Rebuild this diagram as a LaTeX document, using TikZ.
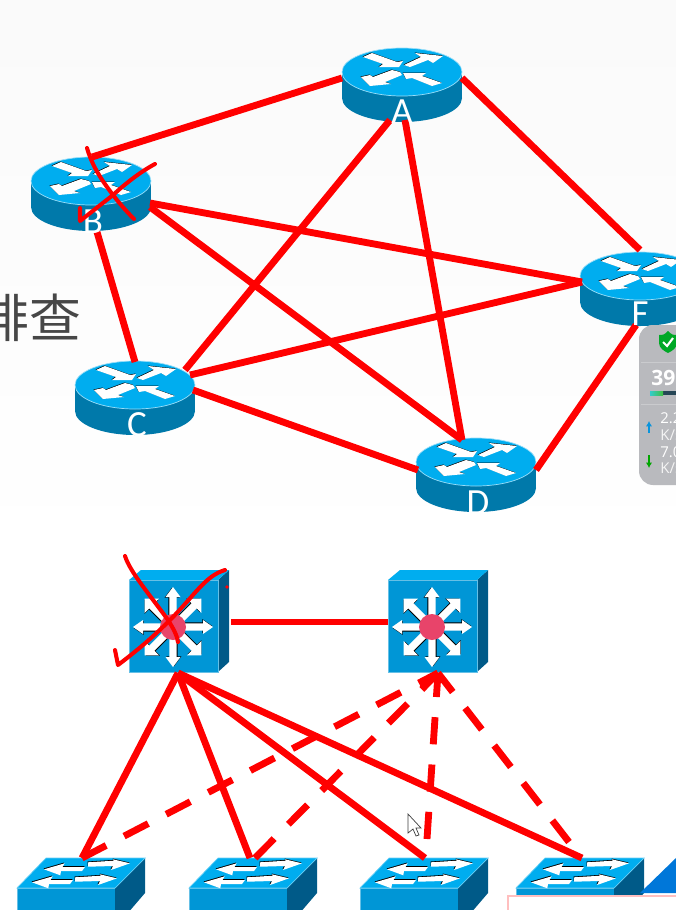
\documentclass[tikz,border=0pt]{standalone}
\usepackage{fontspec}
\usepackage{xcolor}
\usepackage{tikz}
\usetikzlibrary{arrows.meta, positioning}
\newfontfamily\labelfont{Carlito}
\newfontfamily\panelfont{Open Sans}
\newfontfamily\cjkfont{Noto Sans CJK SC}
\definecolor{linkred}{HTML}{FF0000}
\definecolor{icontop}{HTML}{00ADEF}
\definecolor{routerside}{HTML}{0079AA}
\definecolor{switchfront}{HTML}{0096D6}
\definecolor{switchside}{HTML}{005A88}
\definecolor{hubdot}{HTML}{E8446A}
\definecolor{panelgrey}{HTML}{B9BABE}
\tikzset{
	link/.style={draw=linkred, line width=3.9pt},
	dashlink/.style={link, dash pattern=on 15.5pt off 11.5pt},
	pen/.style={draw=linkred, line width=2.3pt, line cap=round, line join=round},
	routerlabel/.style={text=white, font=\labelfont\fontsize{21}{21}\selectfont, inner sep=0pt},
	paneltext/.style={text=white, font=\panelfont\fontsize{8.5}{8.5}\selectfont, anchor=west, inner sep=0pt},
	panelunit/.style={paneltext, text=white!85!panelgrey},
	routericon/.pic={
		\fill[routerside] (0,26) circle[x radius=60, y radius=24];
		\fill[routerside] (-60,0) rectangle (60,26);
		\fill[icontop, draw=white!60!icontop, line width=0.4pt] (0,0) circle[x radius=60, y radius=24];
		\foreach \s/\c in {0.5/black, 0/white} {
			\fill[\c, shift={(-\s,-\s)}] (-30,-19) -- (-39,-15) -- (-19,-8) -- (-23,-5) -- (-3,-5) -- (1,-11) -- (-5,-10) -- cycle;
			\fill[\c, shift={(-\s,-\s)}] (2,-7) -- (8,-5) -- (26,-12) -- (31,-9) -- (41,-16) -- (13,-19) -- (19,-15) -- cycle;
			\fill[\c, shift={(-\s,-\s)}] (-2,0) -- (-10,-2) -- (-29,5) -- (-32,3) -- (-41,5) -- (-32,14) -- (-11,12) -- (-17,10) -- (0,3) -- cycle;
			\fill[\c, shift={(-\s,-\s)}] (1,1) -- (4,7) -- (10,6) -- (30,14) -- (40,11) -- (20,4) -- (24,1) -- cycle;
		}
	},
	coreicon/.pic={
		\fill[switchside] (89,0) -- (100,-10) -- (100,82) -- (89,92) -- cycle;
		\fill[icontop] (0,0) -- (12,-10) -- (100,-10) -- (89,0) -- cycle;
		\fill[switchfront, draw=white!40!switchfront, line width=0.4pt] (0,0) rectangle (89,92);
		\foreach \a/\w in {0/7, 45/10, 90/7.5, 135/10, 180/7, 225/10, 270/7.5, 315/10} {
			\begin{scope}[shift={(44,47)}, rotate=\a]
				\fill[black, shift={(-0.6,-0.9)}] (8,-3.7) -- (30,-3.7) -- (30,-\w) -- (40,0) -- (30,\w) -- (30,3.7) -- (8,3.7) -- cycle;
				\fill[white] (8,-3.7) -- (30,-3.7) -- (30,-\w) -- (40,0) -- (30,\w) -- (30,3.7) -- (8,3.7) -- cycle;
			\end{scope}
		}
		\fill[hubdot] (44,47) circle[radius=13];
	},
	accessicon/.pic={
		\fill[switchfront, draw=white!40!switchfront, line width=0.4pt] (0,0) rectangle (98,40);
		\fill[switchside] (98,0) -- (128,-30) -- (128,5) -- (98,40) -- cycle;
		\fill[icontop, draw=white!40!icontop, line width=0.4pt] (0,0) -- (98,0) -- (128,-30) -- (29,-30) -- cycle;
		\foreach \dx/\dy in {0/0, -13/15} {
			\fill[black, shift={(\dx-0.5,\dy-0.8)}] (71,-25.7) -- (97,-27.3) -- (96,-28.7) -- (113,-24.7) -- (94,-18) -- (96,-22) -- (71,-21.3) -- cycle;
			\fill[white, shift={(\dx,\dy)}] (71,-25.7) -- (97,-27.3) -- (96,-28.7) -- (113,-24.7) -- (94,-18) -- (96,-22) -- (71,-21.3) -- cycle;
		}
		\foreach \dx/\dy in {0/0, -12/13} {
			\fill[black, shift={(\dx-0.5,\dy-0.8)}] (27,-18.7) -- (47.7,-24.7) -- (45.5,-21) -- (68,-21) -- (65,-17) -- (44,-17) -- (43.3,-12.7) -- cycle;
			\fill[white, shift={(\dx,\dy)}] (27,-18.7) -- (47.7,-24.7) -- (45.5,-21) -- (68,-21) -- (65,-17) -- (44,-17) -- (43.3,-12.7) -- cycle;
		}
	}
}
\begin{document}
\begin{tikzpicture}[x=0.02cm, y=-0.02cm]
	% Routers, switches and wires:
	\clip (0,0) rectangle (676,910);
	\fill[white] (0,0) rectangle (676,910);
	\fill[top color=black!2, bottom color=white] (0,0) rectangle (676,560);
	\node[anchor=east, inner sep=0pt, text=black!72, font=\cjkfont\fontsize{29.5}{29.5}\selectfont] (title) at (82,318) {排查};

	\pic at (402,72) {routericon};
	\pic at (91,181) {routericon};
	\pic at (135,385) {routericon};
	\pic at (476,462) {routericon};
	\pic at (640,276) {routericon};

	\foreach \n/\x/\y in {Ab/342/78, Af/462/78, Ac/390/120, Ad/405/120, Ba/92/157, Bf/150/203, Bd/150/207, Bc/97/232,
		Ca/185/370, Cb/135/362, Cf/190/375, Cd/193/390, Da/462/440, Db/462/440, Dc/418/470, Df/536/470,
		Fa/640/250, Fb/582/282, Fc/582/282, Fd/636/325} {
		\coordinate (\n) at (\x,\y);
	}
	\draw[link] (Ab) -- (Ba);
	\draw[link] (Af) -- (Fa);
	\draw[link] (Ac) -- (Ca);
	\draw[link] (Ad) -- (Da);
	\draw[link] (Bf) -- (Fb);
	\draw[link] (Bd) -- (Db);
	\draw[link] (Bc) -- (Cb);
	\draw[link] (Cf) -- (Fc);
	\draw[link] (Cd) -- (Dc);
	\draw[link] (Df) -- (Fd);

	% status panel
	\fill[panelgrey, rounded corners=8pt] (639,325) rectangle (690,485);
	\draw[white!25!panelgrey, line width=0.5pt] (641,362) -- (676,362);
	\draw[white!25!panelgrey, line width=0.5pt] (641,404) -- (676,404);
	\fill[green!60!black!85!cyan] (668,331) .. controls (664,335) and (663,335) .. (659,335) -- (659,343) .. controls (659,348) and (664,351) .. (668,353) .. controls (672,351) and (677,348) .. (677,343) -- (677,335) .. controls (673,335) and (672,335) .. (668,331) -- cycle;
	\draw[white, line width=1.2pt] (663,342) -- (667,346) -- (673,338);
	\node[paneltext, font=\panelfont\bfseries\fontsize{12}{12}\selectfont] (speed) at (651,378) {39.};
	\fill[switchside!50!black!70!gray] (650,391) rectangle (676,395);
	\fill[left color=cyan!60!gray, right color=green!50!gray] (650,391) rectangle (663,395);
	\node[paneltext] (upval) at (660,418) {2.2};
	\node[panelunit] (upunit) at (660,435) {K/s};
	\node[paneltext] (downval) at (660,452) {7.0};
	\node[panelunit] (downunit) at (660,468) {K/s};
	\coordinate (upa) at (649,433);
	\coordinate (upb) at (649,421);
	\coordinate (downa) at (649,455);
	\coordinate (downb) at (649,468);
	\draw[-{Latex[length=3pt,width=3.5pt]}, cyan!80!blue, line width=0.8pt] (upa) -- (upb);
	\draw[-{Latex[length=3pt,width=3.5pt]}, green!65!black, line width=0.8pt] (downa) -- (downb);

	\node[routerlabel] (A) at (402,112) {A};
	\node[routerlabel] (B) at (93,222) {B};
	\node[routerlabel] (C) at (137,425) {C};
	\node[routerlabel] (D) at (478,503) {D};
	\node[routerlabel] (F) at (640,314) {F};

	\pic at (129,580) {coreicon};
	\pic at (388,580) {coreicon};
	\pic at (17,888) {accessicon};
	\pic at (189,888) {accessicon};
	\pic at (360,888) {accessicon};
	\pic at (516,888) {accessicon};

	\coordinate (core1e) at (231,622);
	\coordinate (core2w) at (388,622);
	\coordinate (core1s) at (178,673);
	\coordinate (core2s) at (438,673);
	\coordinate (acc1) at (82,858);
	\coordinate (acc2) at (250,858);
	\coordinate (acc2d) at (255,858);
	\coordinate (acc3) at (425,858);
	\coordinate (acc3d) at (427,839);
	\coordinate (acc4) at (582,858);
	\coordinate (acc4d) at (569,842);
	\draw[link] (core1e) -- (core2w);
	\draw[link] (core1s) -- (acc1);
	\draw[link] (core1s) -- (acc2);
	\draw[link] (core1s) -- (acc3);
	\draw[link] (core1s) -- (acc4);
	\draw[dashlink] (acc1) -- (core2s);
	\draw[dashlink] (acc2d) -- (core2s);
	\draw[dashlink] (acc3d) -- (core2s);
	\draw[dashlink] (acc4d) -- (core2s);

	% pen marks
	\draw[pen] (87,148) .. controls (92,165) and (100,178) .. (113,195) .. controls (120,204) and (127,212) .. (134,219);
	\draw[pen] (155,164) .. controls (140,172) and (125,184) .. (113,195) -- (80,221) -- (80,208);
	\draw[pen] (125,556) .. controls (130,572) and (150,595) .. (168,620) .. controls (173,628) and (177,635) .. (178,642);
	\draw[pen] (225,570) .. controls (205,576) and (195,595) .. (170,620) .. controls (150,640) and (135,652) .. (118,665) -- (115,650);
	\fill[linkred] (227,587) circle[radius=1.8];

	% cursor and screen corner
	\filldraw[fill=white, draw=black!75, line width=0.4pt] (408,814) -- (408,833) -- (413,829) -- (416,836) -- (419,835) -- (416,828) -- (421,828) -- cycle;
	\fill[blue!45!cyan!85!black] (676,858) -- (640,893) -- (676,893) -- cycle;
	\filldraw[fill=white, draw=red!25, line width=0.6pt] (508,896) rectangle (690,930);
\end{tikzpicture}
\end{document}
